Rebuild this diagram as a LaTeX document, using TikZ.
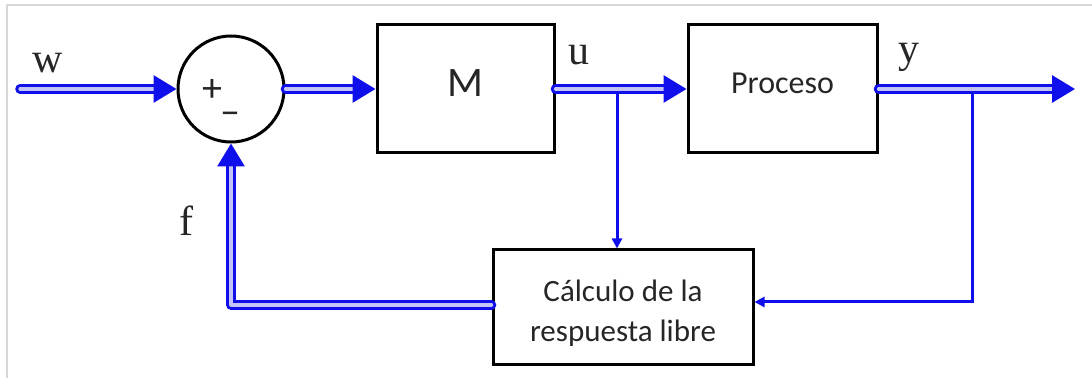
\documentclass[tikz,border=0pt]{standalone}
\usepackage{fontspec}
\setmainfont{Liberation Serif}
\newfontfamily\calfont{Carlito}
\usetikzlibrary{arrows.meta,calc}
\definecolor{sigblue}{RGB}{15,15,235}
\definecolor{sigpale}{RGB}{195,195,245}
\definecolor{framegray}{RGB}{215,215,215}
\begin{document}
\begin{tikzpicture}[x=0.5pt,y=-0.5pt,
  blockbox/.style={draw=black, line width=1.5pt, inner sep=0pt, text=black!85, align=center},
  sumnode/.style={circle, draw=black, line width=1.5pt, minimum size=53pt, inner sep=0pt},
  sig/.style={draw=sigblue, line width=1.6pt, double=sigpale, double distance=1.6pt, line cap=round, line join=round, -{Triangle[length=11.5pt,width=13.5pt]}},
  thinsig/.style={draw=sigblue, line width=1.5pt, -{Triangle[length=5pt,width=5pt]}},
  lbl/.style={font=\fontsize{21}{24}\selectfont, text=black!85, anchor=base, inner sep=0pt},
  sgn/.style={font=\calfont\fontsize{20}{24}\selectfont, text=black!85, inner sep=0pt}
]
\useasboundingbox (0,0) rectangle (1092,378);
\draw[framegray, line width=1pt] (7,378) -- (7,5) -- (1092,5);

\node[sumnode] (sum) at (231,89) {};
\node[sgn] (plus) at (212,91) {+};
\node[sgn] (minus) at (230,118) {–};
\node[blockbox, minimum width=88.5pt, minimum height=64pt, text height=13pt, text depth=5pt, font=\calfont\fontsize{21}{24}\selectfont] (M) at (465.5,89) {M};
\node[blockbox, minimum width=94.5pt, minimum height=64pt, text height=10pt, text depth=5pt, font=\calfont\fontsize{16}{20}\selectfont] (proc) at (782.5,89) {Proceso};
\node[blockbox, minimum width=130pt, minimum height=57.5pt, text height=38.5pt, text depth=4pt, font=\calfont\fontsize{15.5}{20}\selectfont] (calc) at (623,307.5) {Cálculo de la\\respuesta libre};

\coordinate (win) at (20,89);
\coordinate (yout) at (1075,89);
\coordinate (bu) at (617,89);
\coordinate (by) at (972,89);

\draw[thinsig] (bu) -- (bu |- calc.north);
\draw[thinsig] (by) |- ([yshift=2.75pt]calc.east);

\draw[sig] (win) -- (sum.west);
\draw[sig] (sum.east) -- (M.west);
\draw[sig] (M.east) -- (proc.west);
\draw[sig] (proc.east) -- (yout);
\draw[sig] ([yshift=1.25pt]calc.west) -| (sum.south);

\node[lbl] (lw) at (48,73) {w};
\node[lbl] (lu) at (579,65) {u};
\node[lbl] (ly) at (909,63) {y};
\node[lbl] (lf) at (186,236) {f};
\end{tikzpicture}
\end{document}
